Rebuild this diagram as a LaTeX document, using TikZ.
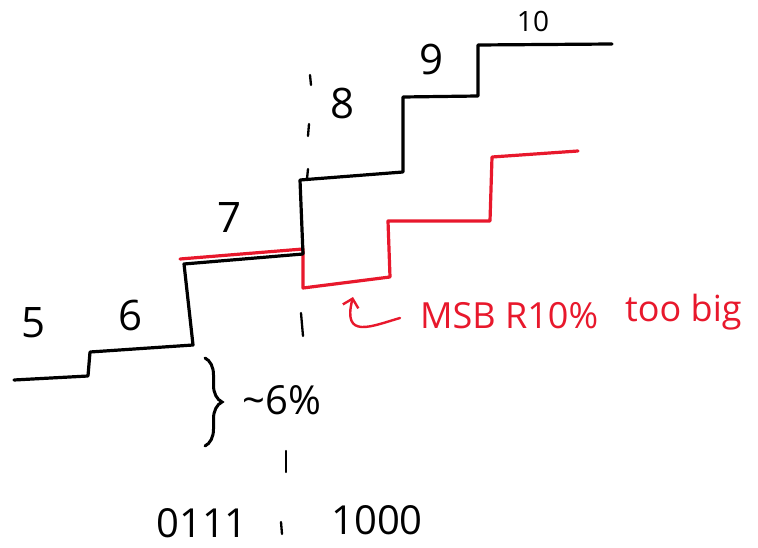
\documentclass[tikz,border=0pt]{standalone}
\usepackage{fontspec}
\setmainfont{Open Sans}
\usetikzlibrary{arrows.meta,decorations.pathreplacing}
\definecolor{penred}{RGB}{232,24,44}
\begin{document}
\begin{tikzpicture}[x=1pt,y=-1pt,
  stair/.style={line width=3.2pt,line join=round,line cap=round},
  tick/.style={line width=2.3pt,line cap=round},
  digit/.style={font=\fontsize{42}{42}\selectfont,inner sep=0pt},
  small/.style={font=\fontsize{28}{28}\selectfont,inner sep=0pt},
  note/.style={font=\fontsize{36}{36}\selectfont,inner sep=0pt,text=penred},
  bits/.style={font=\fontsize{40}{40}\selectfont,inner sep=0pt}]
\useasboundingbox (0,0) rectangle (758,548);
\fill[white] (0,0) rectangle (758,548);

% red staircase (shifted steps), drawn under the black one
\draw[stair,penred] (180,259) -- (303,249) -- (303,288) -- (390,277)
  -- (388,221) -- (490,221) -- (492,157) -- (578,151);

% black staircase
\draw[stair] (14,380) -- (88,376) -- (90,352) -- (193,345) -- (184,264)
  -- (303,254) -- (300,180) -- (403,172) -- (403,97) -- (478,96)
  -- (478,45) -- (612,44);

% dashed divider between 0111 and 1000
\draw[tick] (310,75) -- (311,85);
\draw[tick] (309,124) -- (308,136);
\draw[tick] (308,169) -- (307,179);
\draw[tick] (301,313) -- (303,336);
\draw[tick] (286,451) -- (286,472);
\draw[tick] (281,522) -- (282,534);

% step labels
\node[digit] (l5) at (34,323) {5};
\node[digit] (l6) at (131,315) {6};
\node[digit] (l7) at (230,218) {7};
\node[digit] (l8) at (343,104) {8};
\node[digit] (l9) at (432,60) {9};
\node[small] (l10) at (533,21) {10};

% step height brace
\draw[line width=3pt,line cap=round,decorate,decoration={brace,amplitude=17pt}]
  (205,358) -- (205,446);
\node[digit,font=\fontsize{40}{40}\selectfont] (pct) at (282,400) {\textasciitilde 6\%};

% codes on each side of the divider
\node[bits] (lo) at (202,523) {0111};
\node[bits] (hi) at (377,520) {1000};

% annotation for the red staircase
\coordinate (arrtail) at (400,318);
\coordinate (arrhead) at (353,297);
\draw[line width=2.4pt,penred,line cap=round,-{Straight Barb[length=8pt,width=16pt]}]
  (arrtail) .. controls (372,326) and (342,340) .. (arrhead);
\node[note,anchor=west] (msb) at (420,316) {MSB R10\%};
\node[note,anchor=west] (big) at (625,312) {too big};
\end{tikzpicture}
\end{document}
